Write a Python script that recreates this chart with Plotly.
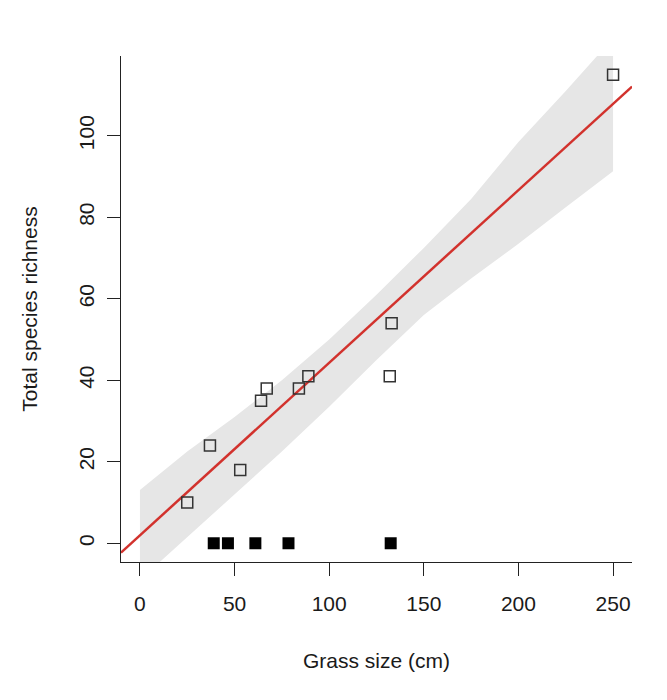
import plotly.graph_objects as go

# open squares: grass species with species counts
open_x = [25, 37, 53, 64, 67, 84, 89, 132, 133, 250]
open_y = [10, 24, 18, 35, 38, 38, 41, 41, 54, 115]

# filled squares: species with zero richness
zero_x = [39, 46.5, 61, 78.5, 132.5]
zero_y = [0, 0, 0, 0, 0]

# fitted regression line (read at the plot edges)
fit_x = [-10, 260]
fit_y = [-2.3, 112.1]

# confidence band edges
band_x = [0, 25, 50, 75, 100, 125, 150, 175, 200, 225, 250]
band_upper = [13.1, 22.5, 31, 40, 50, 61, 72.5, 84.5, 98.5, 111, 124]
band_lower = [-9, 1.5, 12, 22.5, 33.5, 45, 56, 65, 73.5, 82.5, 91.3]

x_ticks = [0, 50, 100, 150, 200, 250]
y_ticks = [0, 20, 40, 60, 80, 100]

font = "Liberation Sans, Arial, sans-serif"

fig = go.Figure()

fig.add_trace(go.Scatter(
    x=band_x + band_x[::-1],
    y=band_upper + band_lower[::-1],
    fill="toself",
    fillcolor="#e6e6e6",
    line=dict(width=0),
    mode="lines",
    hoverinfo="skip",
    showlegend=False))

fig.add_trace(go.Scatter(
    x=fit_x, y=fit_y,
    mode="lines",
    line=dict(color="#d2322d", width=2.5),
    showlegend=False))

fig.add_trace(go.Scatter(
    x=open_x, y=open_y,
    mode="markers",
    marker=dict(symbol="square-open", size=11, color="#333333",
                line=dict(width=1.5, color="#333333")),
    showlegend=False))

fig.add_trace(go.Scatter(
    x=zero_x, y=zero_y,
    mode="markers",
    marker=dict(symbol="square", size=12, color="black"),
    showlegend=False))

axis_common = dict(
    showline=True, linecolor="#222222", linewidth=1.3,
    ticks="outside", ticklen=13, tickwidth=1.3, tickcolor="#222222",
    showgrid=False, zeroline=False, mirror=False,
    tickfont=dict(family=font, size=21, color="#1a1a1a"),
)

fig.update_xaxes(
    range=[-10, 260], tickvals=x_ticks,
    title=dict(text="Grass size (cm)", standoff=38,
               font=dict(family=font, size=21, color="#1a1a1a")),
    ticklabelstandoff=10,
    **axis_common)

fig.update_yaxes(
    range=[-4.6, 119.6], tickvals=y_ticks, tickangle=-90,
    title=dict(text="Total species richness", standoff=32,
               font=dict(family=font, size=21, color="#1a1a1a")),
    ticklabelstandoff=4,
    **axis_common)

fig.update_layout(
    width=667, height=700,
    margin=dict(l=113, r=43, t=48, b=146, autoexpand=False),
    plot_bgcolor="white", paper_bgcolor="white",
    font=dict(family=font),
)

fig.write_html("out.html")
